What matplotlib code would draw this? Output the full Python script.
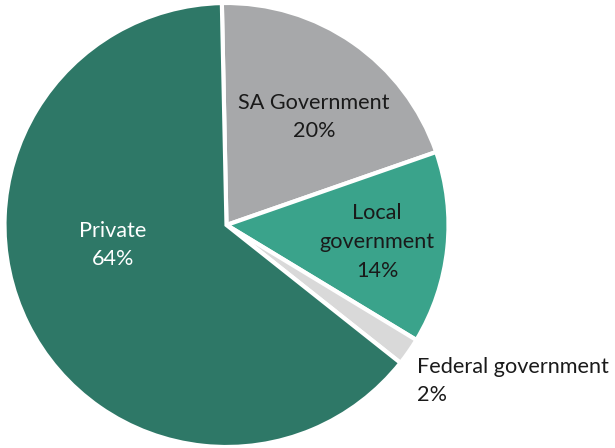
import matplotlib
matplotlib.use("Agg")
import matplotlib.pyplot as plt

categories = ["SA Government", "Local\ngovernment", "Federal government", "Private"]
shares = [20, 14, 2, 64]
colors = ["#A7A8AA", "#3AA38B", "#D9D9D9", "#2E7867"]
text_colors = ["#1a1a1a", "#1a1a1a", "#1a1a1a", "#ffffff"]

# label anchors (pixel coordinates, y from top) and alignment
label_xy = [(314, 117), (377, 242), (417, 381), (113, 245)]
label_ha = ["center", "center", "left", "center"]

W, H = 615, 448
fig = plt.figure(figsize=(W / 100, H / 100), dpi=100)
ax = fig.add_axes([0, 0, 1, 1])

cx, cy, r = 226.5, H - 225, 222
ax.pie(shares, colors=colors, startangle=91.2, counterclock=False,
       center=(cx, cy), radius=r, frame=True,
       wedgeprops=dict(edgecolor="white", linewidth=3))
ax.set_xlim(0, W)
ax.set_ylim(0, H)
ax.set_aspect("equal")
ax.axis("off")

for cat, val, (x, y), ha, tc in zip(categories, shares, label_xy, label_ha, text_colors):
    ax.text(x, H - y, f"{cat}\n{val}%", ha=ha, va="center", color=tc,
            fontsize=15.6, family="Lato", linespacing=1.55,
            multialignment="left" if ha == "left" else "center")

fig.savefig("out.png", dpi=100)
